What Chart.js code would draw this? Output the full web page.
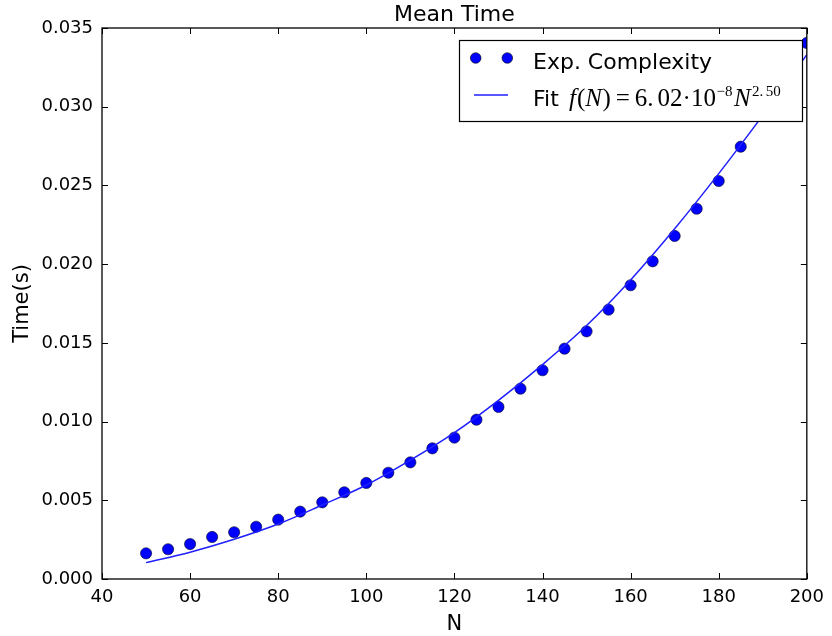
<!DOCTYPE html>
<html>
<head>
<meta charset="utf-8">
<script src="https://cdn.jsdelivr.net/npm/chart.js@4.4.0/dist/chart.umd.min.js"></script>
<style>
html,body{margin:0;padding:0;background:#fff;}
#c{display:block;}
</style>
</head>
<body>
<canvas id="c" width="832" height="636"></canvas>
<script>
// ---- data ----
const sizesN = [50,55,60,65,70,75,80,85,90,95,100,105,110,115,120,125,130,135,140,145,150,155,160,165,170,175,180,185,190,195,200];
const meanTimes = [0.00163,0.00189,0.00222,0.00267,0.00297,0.00332,0.00377,0.00428,0.00487,0.00551,0.00610,0.00675,0.00741,0.00830,0.00898,0.01012,0.01093,0.01209,0.01326,0.01463,0.01573,0.01711,0.01866,0.02018,0.02179,0.02352,0.02528,0.02746,0.0296,0.0318,0.03405];
const fitN = [50,60,70,80,90,100,110,120,130,140,150,160,170,180,190,200];
const fitTimes = [0.00104,0.00170,0.00252,0.00349,0.00470,0.00597,0.00755,0.00930,0.01135,0.01362,0.01610,0.01900,0.02225,0.02575,0.02945,0.03330];
const xTicks = [40,60,80,100,120,140,160,180,200];
const yTicks = [0.000,0.005,0.010,0.015,0.020,0.025,0.030,0.035];
const titleText = "Mean Time";
const xLabel = "N";
const yLabel = "Time(s)";
const legendLabels = ["Exp. Complexity", "Fit "];

const FONT = "'DejaVu Sans', sans-serif";
const SER = "'Liberation Serif', 'DejaVu Serif', serif";

const overlay = {
  id: 'overlay',
  afterDraw(chart) {
    const ctx = chart.ctx, ca = chart.chartArea;
    const xs = chart.scales.x, ys = chart.scales.y;
    ctx.save();
    ctx.strokeStyle = '#000';
    ctx.lineWidth = 1;
    const TL = 6;
    ctx.beginPath();
    xs.ticks.forEach(t => {
      const px = Math.round(xs.getPixelForValue(t.value)) + 0.5;
      ctx.moveTo(px, ca.bottom); ctx.lineTo(px, ca.bottom - TL);
      ctx.moveTo(px, ca.top); ctx.lineTo(px, ca.top + TL);
    });
    ys.ticks.forEach(t => {
      const py = Math.round(ys.getPixelForValue(t.value)) + 0.5;
      ctx.moveTo(ca.left, py); ctx.lineTo(ca.left + TL, py);
      ctx.moveTo(ca.right, py); ctx.lineTo(ca.right - TL, py);
    });
    ctx.stroke();
    ctx.lineWidth = 1.3;
    ctx.strokeRect(ca.left, ca.top, ca.right - ca.left, ca.bottom - ca.top);

    ctx.fillStyle = '#000';
    ctx.textAlign = 'center';
    ctx.textBaseline = 'alphabetic';
    ctx.font = "22px " + FONT;
    ctx.fillText(titleText, (ca.left + ca.right) / 2, 20.5);
    ctx.font = "21px " + FONT;
    ctx.fillText(xLabel, (ca.left + ca.right) / 2, 630);
    ctx.save();
    ctx.translate(28, (ca.top + ca.bottom) / 2);
    ctx.rotate(-Math.PI / 2);
    ctx.fillText(yLabel, 0, 0);
    ctx.restore();

    // legend
    const bx = 459, by = 40, bw = 343, bh = 81;
    ctx.fillStyle = '#fff';
    ctx.fillRect(bx, by, bw, bh);
    ctx.lineWidth = 1.2;
    ctx.strokeStyle = '#000';
    ctx.strokeRect(bx + 0.5, by + 0.5, bw, bh);
    const r1 = 58, r2 = 95;
    [475.7, 507.3].forEach(cx => {
      ctx.beginPath();
      ctx.arc(cx, r1, 5.3, 0, Math.PI * 2);
      ctx.fillStyle = '#0000ff';
      ctx.fill();
      ctx.lineWidth = 0.6;
      ctx.strokeStyle = '#000';
      ctx.stroke();
    });
    ctx.beginPath();
    ctx.moveTo(474, r2); ctx.lineTo(508, r2);
    ctx.strokeStyle = '#1f1fff';
    ctx.lineWidth = 1.5;
    ctx.stroke();
    ctx.fillStyle = '#000';
    ctx.textAlign = 'left';
    ctx.font = "22px " + FONT;
    ctx.fillText(legendLabels[0], 533, 69);
    ctx.fillText(legendLabels[1], 533, 106);
    // math part: f(N) = 6.02·10^{-8} N^{2.50}, laid out piece by piece
    const base = 106;
    let x = 569;
    const pieces = [
      // text, style, size, raise, gap after
      ["f", "italic", 25, 0, 1],
      ["(", "", 25, 0, 0],
      ["N", "italic", 25, 0, 0.5],
      [")", "", 25, 0, 5],
      ["=", "", 25, 0, 5],
      ["6.", "", 25, 0, 4],
      ["02", "", 25, 0, 0],
      ["\u00B7", "", 25, 0, 0],
      ["10", "", 25, 0, 0.5],
      ["\u22128", "", 15, -10, 1.5],
      ["N", "italic", 25, 0, 1.5],
      ["2.", "", 15, -10, 2.5],
      ["50", "", 15, -10, 0]
    ];
    pieces.forEach(p => {
      ctx.font = p[1] + " " + p[2] + "px " + SER;
      ctx.fillText(p[0], x, base + p[3]);
      x += ctx.measureText(p[0]).width + p[4];
    });
    ctx.restore();
  }
};

const ctx = document.getElementById('c').getContext('2d');
new Chart(ctx, {
  type: 'scatter',
  data: {
    datasets: [
      {
        label: legendLabels[0],
        data: sizesN.map((n, i) => ({x: n, y: meanTimes[i]})),
        pointRadius: 5.6,
        pointBackgroundColor: '#0000ff',
        pointBorderColor: '#000022',
        pointBorderWidth: 0.6,
        showLine: false,
        clip: 0,
        order: 1
      },
      {
        label: legendLabels[1],
        type: 'line',
        data: fitN.map((n, i) => ({x: n, y: fitTimes[i]})),
        borderColor: '#1f1fff',
        borderWidth: 1.5,
        pointRadius: 0,
        fill: false,
        cubicInterpolationMode: 'monotone',
        clip: 0,
        order: 0
      }
    ]
  },
  options: {
    responsive: false,
    animation: false,
    layout: {padding: {left: 0, right: 19, top: 28, bottom: 0}},
    plugins: {legend: {display: false}, title: {display: false}, tooltip: {enabled: false}},
    scales: {
      x: {
        type: 'linear', min: 40, max: 200,
        afterBuildTicks: s => { s.ticks = xTicks.map(v => ({value: v})); },
        afterFit: s => { s.height = 57; },
        grid: {display: false, drawTicks: false},
        border: {display: false},
        ticks: {padding: 8, color: '#000', font: {family: FONT, size: 18}, callback: v => String(v), maxRotation: 0, autoSkip: false}
      },
      y: {
        type: 'linear', min: 0, max: 0.035,
        afterBuildTicks: s => { s.ticks = yTicks.map(v => ({value: v})); },
        afterFit: s => { s.width = 102; },
        grid: {display: false, drawTicks: false},
        border: {display: false},
        ticks: {padding: 9, color: '#000', font: {family: FONT, size: 18}, callback: v => Number(v).toFixed(3), autoSkip: false}
      }
    }
  },
  plugins: [overlay]
});
</script>
</body>
</html>
